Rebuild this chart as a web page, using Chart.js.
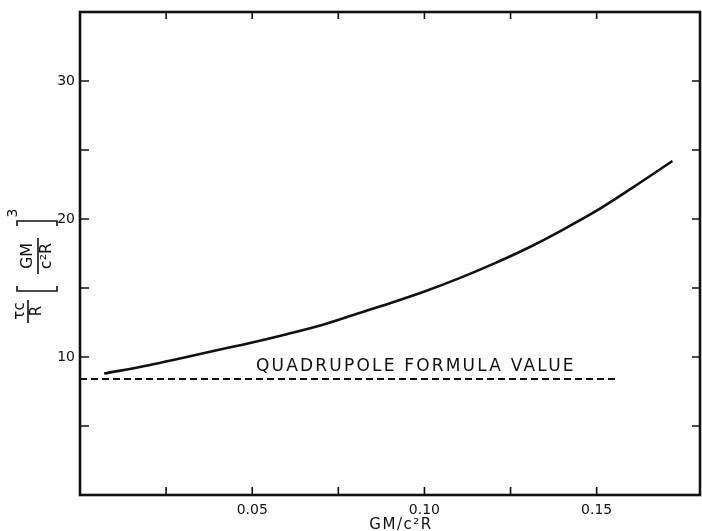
<!DOCTYPE html>
<html>
<head>
<meta charset="utf-8">
<script src="https://cdn.jsdelivr.net/npm/chart.js@4.4.1/dist/chart.umd.min.js"></script>
<style>
  html, body { margin: 0; padding: 0; background: #fff; }
  #wrap { width: 702px; height: 531px; }
</style>
</head>
<body>
<div id="wrap"><canvas id="chart" width="702" height="531"></canvas></div>
<script>
// values
const curveX = [0.007, 0.02, 0.03, 0.04, 0.05, 0.06, 0.07, 0.08, 0.09, 0.10, 0.11, 0.12, 0.13, 0.14, 0.15, 0.16, 0.172];
const curveY = [8.8, 9.4, 9.95, 10.5, 11.05, 11.65, 12.3, 13.1, 13.9, 14.75, 15.7, 16.75, 17.9, 19.2, 20.6, 22.2, 24.2];
const quadX = [0.0, 0.156];
const quadY = [8.4, 8.4];
const xLabelTicks = [0.05, 0.10, 0.15];
const yLabelTicks = [10, 20, 30];
const quadLabel = 'QUADRUPOLE FORMULA VALUE';

const ink = '#111';
const font = '"DejaVu Sans", sans-serif';

const pts = (xs, ys) => xs.map((x, i) => ({ x: x, y: ys[i] }));
const isOn = (v, step) => Math.abs(v / step - Math.round(v / step)) < 1e-6;

// box frame + inward ticks on all four sides
const framePlugin = {
  id: 'frame',
  afterDraw(chart) {
    const { ctx, chartArea: a, scales: { x, y } } = chart;
    ctx.save();
    ctx.strokeStyle = ink;
    ctx.lineWidth = 2.6;
    ctx.strokeRect(a.left, a.top, a.right - a.left, a.bottom - a.top);
    ctx.lineWidth = 1.6;
    x.ticks.forEach(t => {
      if (!isOn(t.value, 0.025) || t.value <= 0) return;
      const px = x.getPixelForValue(t.value);
      if (px >= a.right - 1) return;
      ctx.beginPath();
      ctx.moveTo(px, a.bottom); ctx.lineTo(px, a.bottom - 8);
      ctx.moveTo(px, a.top); ctx.lineTo(px, a.top + 7);
      ctx.stroke();
    });
    y.ticks.forEach(t => {
      if (!isOn(t.value, 5) || t.value <= 0) return;
      const py = y.getPixelForValue(t.value);
      if (py <= a.top + 1) return;
      ctx.beginPath();
      ctx.moveTo(a.left, py); ctx.lineTo(a.left + 9, py);
      ctx.moveTo(a.right, py); ctx.lineTo(a.right - 8, py);
      ctx.stroke();
    });
    ctx.restore();
  }
};

function upText(ctx, t, sx, sy) {
  ctx.save();
  ctx.translate(sx, sy);
  ctx.rotate(-Math.PI / 2);
  ctx.fillText(t, 0, 0);
  ctx.restore();
}

// annotation text and axis titles
const textPlugin = {
  id: 'texts',
  afterDraw(chart) {
    const { ctx, scales: { x, y } } = chart;
    ctx.save();
    ctx.fillStyle = ink;
    ctx.strokeStyle = ink;

    // label over the dashed line
    ctx.font = '17px ' + font;
    ctx.letterSpacing = '2.2px';
    ctx.textAlign = 'center';
    ctx.textBaseline = 'alphabetic';
    ctx.fillText(quadLabel, x.getPixelForValue(0.0975), y.getPixelForValue(8.95));

    // x title
    ctx.font = '15px ' + font;
    ctx.letterSpacing = '1.5px';
    ctx.fillText('GM/c\u00b2R', 401, 529);
    ctx.letterSpacing = '0px';

    // y title: tau c / R [GM / c^2 R]^3, reading bottom to top
    ctx.textAlign = 'center';
    ctx.textBaseline = 'middle';
    ctx.lineWidth = 1.6;
    ctx.font = '15px ' + font;
    upText(ctx, '\u03c4c', 20, 311);
    upText(ctx, 'R', 37, 311);
    ctx.beginPath(); ctx.moveTo(28, 300); ctx.lineTo(28, 323); ctx.stroke();
    // brackets
    ctx.beginPath();
    ctx.moveTo(17, 286); ctx.lineTo(17, 291); ctx.lineTo(57, 291); ctx.lineTo(57, 286);
    ctx.moveTo(17, 226); ctx.lineTo(17, 221); ctx.lineTo(57, 221); ctx.lineTo(57, 226);
    ctx.stroke();
    ctx.font = '16px ' + font;
    upText(ctx, 'GM', 28, 256);
    upText(ctx, 'c\u00b2R', 47, 256);
    ctx.beginPath(); ctx.moveTo(38, 238); ctx.lineTo(38, 274); ctx.stroke();
    ctx.font = '14px ' + font;
    upText(ctx, '3', 13, 213);
    ctx.restore();
  }
};

new Chart(document.getElementById('chart'), {
  type: 'line',
  data: {
    datasets: [
      {
        data: pts(curveX, curveY),
        borderColor: ink,
        borderWidth: 2.6,
        pointRadius: 0,
        cubicInterpolationMode: 'monotone'
      },
      {
        data: pts(quadX, quadY),
        borderColor: ink,
        borderWidth: 2,
        borderDash: [7, 4],
        pointRadius: 0
      }
    ]
  },
  options: {
    responsive: false,
    animation: false,
    layout: { padding: { top: 12, right: 2, left: 0, bottom: 0 } },
    plugins: { legend: { display: false }, tooltip: { enabled: false } },
    scales: {
      x: {
        type: 'linear',
        min: 0,
        max: 0.18,
        grid: { display: false, tickLength: 0 },
        border: { display: false },
        afterFit: s => { s.height = 36; s.paddingLeft = 0; s.paddingRight = 0; },
        ticks: {
          stepSize: 0.025,
          autoSkip: false,
          maxRotation: 0,
          padding: 7,
          color: ink,
          font: { family: 'DejaVu Sans', size: 14 },
          callback: v => xLabelTicks.some(t => Math.abs(t - v) < 1e-9) ? v.toFixed(2) : ''
        }
      },
      y: {
        type: 'linear',
        min: 0,
        max: 35,
        grid: { display: false, tickLength: 0 },
        border: { display: false },
        afterFit: s => { s.width = 80; s.paddingTop = 0; s.paddingBottom = 0; },
        ticks: {
          stepSize: 5,
          autoSkip: false,
          padding: 5,
          color: ink,
          font: { family: 'DejaVu Sans', size: 14 },
          callback: v => yLabelTicks.includes(v) ? String(v) : ''
        }
      }
    }
  },
  plugins: [framePlugin, textPlugin]
});
</script>
</body>
</html>
